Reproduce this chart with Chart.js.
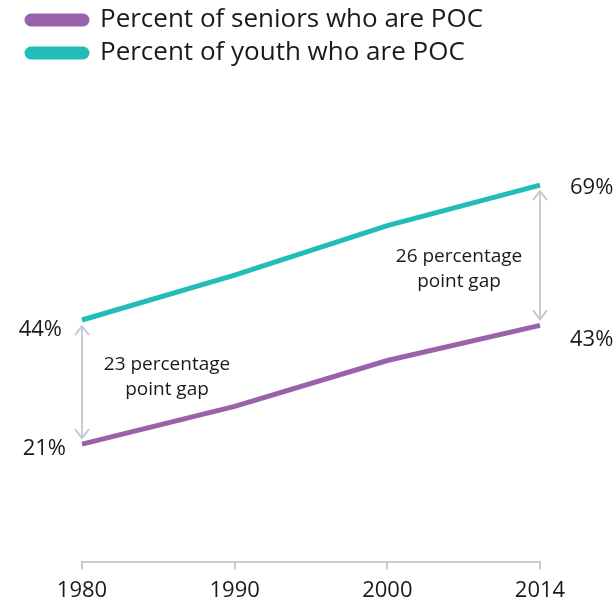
<!DOCTYPE html>
<html>
<head>
<meta charset="utf-8">
<script src="https://cdn.jsdelivr.net/npm/chart.js@4.4.0/dist/chart.umd.min.js"></script>
<style>
  html, body { margin: 0; padding: 0; background: #fff; }
  #wrap { width: 615px; height: 604px; }
</style>
</head>
<body>
<div id="wrap"><canvas id="myChart" width="615" height="604"></canvas></div>
<script>
var years = ["1980", "1990", "2000", "2014"];
var seniorsPOC = [21, 28, 36.5, 43];
var youthPOC = [44, 52.3, 61.5, 69];
var seniorsLabel = "Percent of seniors who are POC";
var youthLabel = "Percent of youth who are POC";

var purple = "#9962ab";
var teal = "#22bdb6";
var arrowGray = "#c5ccd4";
var textColor = "#1a1a1a";
var fontName = "'Open Sans', 'Noto Sans', sans-serif";

// arrows, gap notes and end values, all placed from the scales
var gapNotes = {
  id: 'gapNotes',
  afterDatasetsDraw: function(chart){
    var ctx = chart.ctx;
    var x = chart.scales.x, y = chart.scales.y;
    var ends = [0, years.length - 1];
    ctx.save();
    ends.forEach(function(i, n){
      var px = x.getPixelForValue(i);
      var top = y.getPixelForValue(youthPOC[i]) + 6;
      var bot = y.getPixelForValue(seniorsPOC[i]) - 6;
      ctx.strokeStyle = arrowGray;
      ctx.lineWidth = 2;
      ctx.beginPath();
      ctx.moveTo(px, top); ctx.lineTo(px, bot);
      ctx.moveTo(px - 7, top + 9); ctx.lineTo(px, top); ctx.lineTo(px + 7, top + 9);
      ctx.moveTo(px - 7, bot - 9); ctx.lineTo(px, bot); ctx.lineTo(px + 7, bot - 9);
      ctx.stroke();

      var gap = Math.round(youthPOC[i] - seniorsPOC[i]);
      var mid = (top + bot) / 2;
      ctx.fillStyle = textColor;
      ctx.font = "19px " + fontName;
      ctx.textAlign = "center";
      ctx.textBaseline = "middle";
      var cx = n === 0 ? px + 85 : px - 81;
      var cy = n === 0 ? mid - 6 : mid + 13;
      ctx.fillText(gap + " percentage", cx, cy - 12);
      ctx.fillText("point gap", cx, cy + 13);

      ctx.font = "22px " + fontName;
      if(n === 0){
        ctx.textAlign = "right";
        ctx.fillText(youthPOC[i] + "%", px - 20, y.getPixelForValue(youthPOC[i]) + 10);
        ctx.fillText(seniorsPOC[i] + "%", px - 16, y.getPixelForValue(seniorsPOC[i]) + 5);
      } else {
        ctx.textAlign = "left";
        ctx.fillText(youthPOC[i] + "%", px + 30, y.getPixelForValue(youthPOC[i]) + 3);
        ctx.fillText(seniorsPOC[i] + "%", px + 30, y.getPixelForValue(seniorsPOC[i]) + 14);
      }
    });
    ctx.restore();
  }
};

var ctx = document.getElementById('myChart');
var myLineChart = new Chart(ctx, {
  type: 'line',
  data: {
    labels: years,
    datasets: [
      {
        label: seniorsLabel,
        data: seniorsPOC,
        borderColor: purple,
        backgroundColor: purple,
        borderWidth: 5,
        pointRadius: 0,
        tension: 0,
        fill: false
      },
      {
        label: youthLabel,
        data: youthPOC,
        borderColor: teal,
        backgroundColor: teal,
        borderWidth: 5,
        pointRadius: 0,
        tension: 0,
        fill: false
      }
    ]
  },
  options: {
    responsive: false,
    animation: false,
    layout: { padding: { left: 20, right: 75, top: 0, bottom: -8 } },
    plugins: {
      tooltip: { enabled: false },
      legend: {
        position: 'top',
        align: 'start',
        labels: {
          boxWidth: 60,
          boxHeight: 8,
          useBorderRadius: true,
          borderRadius: 4,
          padding: 7,
          color: textColor,
          font: { family: fontName, size: 26 }
        }
      }
    },
    scales: {
      x: {
        offset: false,
        grid: { drawOnChartArea: false, drawTicks: true, tickLength: 8, color: arrowGray, lineWidth: 2 },
        border: { display: true, color: arrowGray, width: 2 },
        ticks: { color: textColor, font: { family: fontName, size: 22 }, padding: 8, maxRotation: 0 }
      },
      y: {
        min: -0.75,
        max: 89.2,
        grid: { display: false },
        border: { display: false },
        ticks: { display: false },
        afterFit: function(scale){ scale.width = 62; }
      }
    }
  },
  plugins: [gapNotes]
});
</script>
</body>
</html>
